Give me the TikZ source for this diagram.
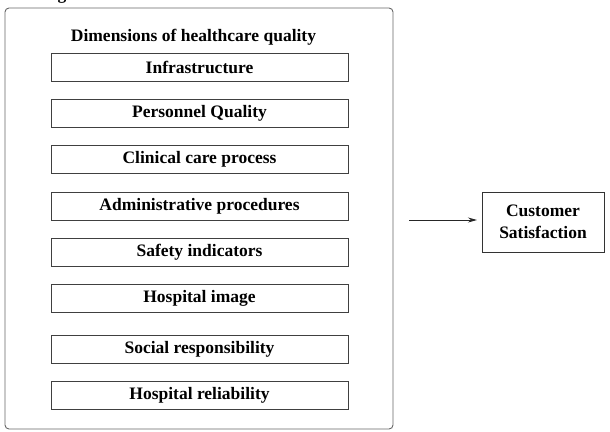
\documentclass[tikz,border=0pt]{standalone}
\usepackage{fontspec}
\setmainfont{Liberation Serif}
\usetikzlibrary{arrows.meta}
\begin{document}
\begin{tikzpicture}[x=1pt,y=-1pt,
  every node/.style={font=\fontsize{17.5}{22}\selectfont\bfseries, text=black},
  dimbox/.style={draw=black!75, line width=0.9pt, minimum width=297pt, minimum height=28pt, inner sep=0pt},
  outerbox/.style={draw=black!60, line width=0.9pt, rounded corners=4pt},
  outbox/.style={draw=black!80, line width=0.9pt, minimum width=122pt, minimum height=60pt, align=center, inner sep=0pt},
  link/.style={-{Stealth[length=9pt,width=5pt]}, line width=0.9pt, black!85}]
\useasboundingbox (0,0) rectangle (610,431);
\begin{scope}
\clip (0,0) rectangle (610,431);
\node[anchor=base] (frag) at (62,0) {g};
\end{scope}
\draw[outerbox] (5,8) rectangle (393,429);
\node (title) at (193.5,37) {Dimensions of healthcare quality};
\node[dimbox] (b1) at (199.5,67) {Infrastructure};
\node[dimbox] (b2) at (199.5,113) {Personnel Quality};
\node[dimbox] (b3) at (199.5,159.5) {Clinical care process};
\node[dimbox] (b4) at (199.5,206) {Administrative procedures};
\node[dimbox] (b5) at (199.5,252.5) {Safety indicators};
\node[dimbox] (b6) at (199.5,298.5) {Hospital image};
\node[dimbox] (b7) at (199.5,349.5) {Social responsibility};
\node[dimbox] (b8) at (199.5,395.5) {Hospital reliability};
\node[outbox] (cs) at (543,222) {Customer\\Satisfaction};
\coordinate (start) at (409,220);
\coordinate (stop) at (477,220);
\draw[link] (start) -- (stop);
\end{tikzpicture}
\end{document}
